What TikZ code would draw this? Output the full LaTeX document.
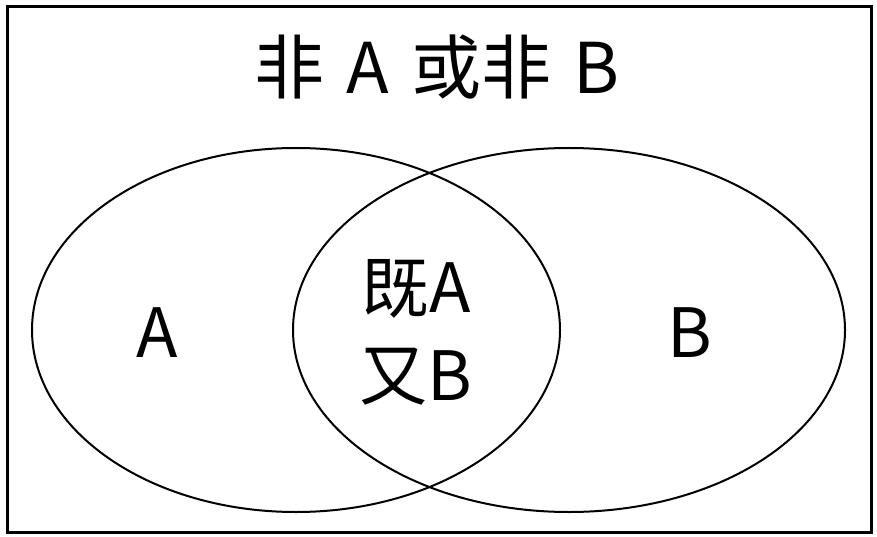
\documentclass[tikz,border=0pt]{standalone}
\usepackage{fontspec}
\setmainfont{Noto Sans CJK SC}
\tikzset{setline/.style={line width=2pt},
  setlabel/.style={font=\fontsize{68}{88}\selectfont, inner sep=0pt}}
\begin{document}
\begin{tikzpicture}[x=1pt,y=-1pt]
\useasboundingbox (0,0) rectangle (877,537);
\draw[line width=3pt] (7,7) rectangle (871,532);
\draw[setline] (296,330) ellipse [x radius=264pt,y radius=182pt];
\draw[setline] (569,330) ellipse [x radius=276pt,y radius=182pt];

\node[font=\fontsize{70}{80}\selectfont, inner sep=0pt] (title) at (437,67)
  {非\hspace{0.32em}A\hspace{0.32em}或非\hspace{0.32em}B};
\node[setlabel] (seta) at (157,333) {A};
\node[setlabel] (setb) at (690,333) {B};
\node[setlabel, align=center] (both) at (416,332) {既A\\又B};
\end{tikzpicture}
\end{document}
